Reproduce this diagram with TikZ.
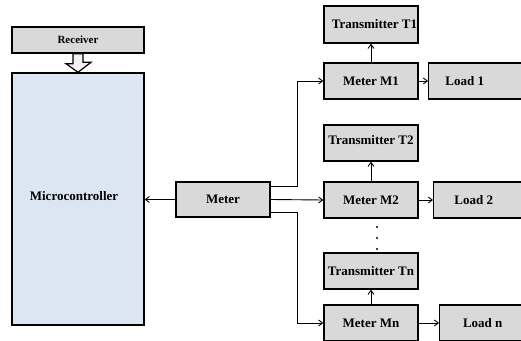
\documentclass[tikz,border=0pt]{standalone}
\usepackage{xcolor}
\usepackage{tikz}
\usepackage{fontspec}
\setmainfont{Liberation Serif}
\usetikzlibrary{arrows.meta}

\definecolor{boxgray}{HTML}{D9D9D9}
\definecolor{mcublue}{HTML}{DCE6F2}

\begin{document}
\begin{tikzpicture}[x=1pt, y=-1pt,
    blk/.style={draw=black, line width=1.4pt, fill=boxgray, minimum width=94pt, minimum height=36pt,
      inner sep=0pt, font=\fontsize{13}{15}\selectfont\bfseries},
    wire/.style={line width=0.9pt, -{Straight Barb[length=4pt, width=6pt]}}]
      \path[use as bounding box, clip] (0,0) rectangle (521,340);

      % left side
      \node[blk, minimum width=132pt, minimum height=26pt, font=\fontsize{11}{13}\selectfont\bfseries] (recv) at (78,40) {Receiver};
      \node[blk, fill=mcublue, minimum width=132pt, minimum height=252pt] (mcu) at (78,199) {\raisebox{6pt}{Microcontroller}\kern8pt};
      \node[blk, minimum height=35pt] (meter) at (223,199.5) {Meter};

      % meters and transmitters
      \node[blk, minimum height=37pt] (t1) at (371,24.5) {\kern7pt Transmitter T1};
      \node[blk] (m1) at (371,81) {Meter M1};
      \node[blk] (t2) at (371,143) {\raisebox{7pt}{Transmitter T2}};
      \node[blk] (m2) at (371,200) {Meter M2};
      \node[blk] (tn) at (371,271) {\raisebox{-3pt}{Transmitter Tn}};
      \node[blk] (mn) at (371,323) {Meter Mn};

      % loads
      \node[blk, minimum width=112pt, anchor=west] (l1) at (428,81) {Load 1\kern40pt};
      \node[blk, minimum width=112pt, anchor=west] (l2) at (433,200) {Load 2\kern32pt};
      \node[blk, minimum width=112pt, anchor=west] (ln) at (439,323) {Load n\kern26pt};

      % receiver into microcontroller
      \draw[line width=1.2pt, fill=black!5] ([xshift=-5pt]recv.south) -- ++(0,10) -- ++(-7,0)
        -- (mcu.north) -- ++(13,-10) -- ++(-8,0) -- ([xshift=5pt]recv.south) -- cycle;

      \draw[wire] (meter.west) -- (mcu.east |- meter.west);
      \draw[wire] ([yshift=13.5pt]meter.east) -- ++(27,0) |- (m1.west);
      \draw[wire] (meter.east) -- (m2.west);
      \draw[wire] ([yshift=-12.5pt]meter.east) -- ++(27,0) |- (mn.west);

      \draw[wire] (m1) -- (t1);
      \draw[wire] (m2) -- (t2);
      \draw[wire] (mn) -- (tn);
      \draw[wire] (m1) -- (l1);
      \draw[wire] (m2) -- (l2);
      \draw[wire] (mn) -- (ln);

      % dots
      \foreach \y in {227,238,249}
        \fill (377,\y) circle (1.2pt);
\end{tikzpicture}
\end{document}
